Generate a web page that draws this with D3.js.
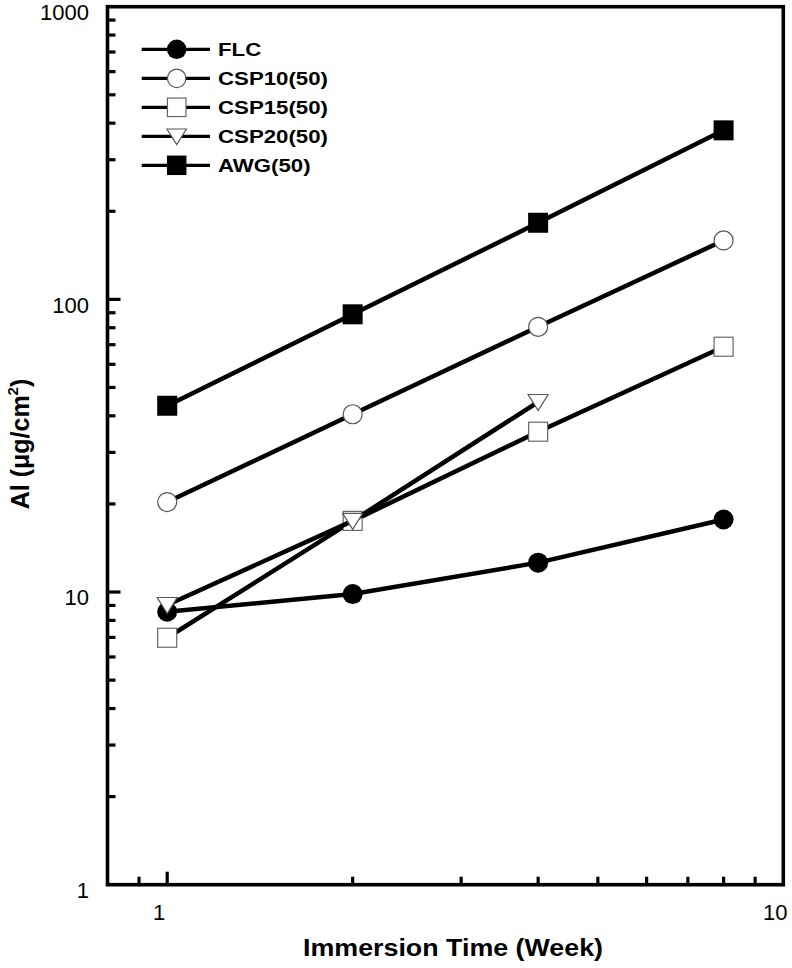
<!DOCTYPE html>
<html><head><meta charset="utf-8">
<script src="https://cdn.jsdelivr.net/npm/d3@7"></script>
<style>body{margin:0;background:#fff}svg{display:block}</style>
</head><body>
<svg id="c" width="792" height="968"></svg>
<script>
const weeks = [1, 2, 4, 8];
const FLC = [8.56, 9.84, 12.6, 17.7];
const CSP10 = [20.3, 40.5, 80.6, 159];
const CSP15 = [6.98, 17.5, 35.3, 68.9];
const CSP20 = [9.03, 17.5, 44.6];
const AWG = [43.3, 88.9, 182.7, 378];
const seriesNames = ["FLC", "CSP10(50)", "CSP15(50)", "CSP20(50)", "AWG(50)"];
const seriesValues = [FLC, CSP10, CSP15, CSP20, AWG];
const markerKinds = ["filledCircle", "openCircle", "openSquare", "openTriangle", "filledSquare"];
const yTickLabels = [1, 10, 100, 1000];
const xTickLabels = [1, 10];
const xTitle = "Immersion Time (Week)";

const svg = d3.select("#c");
const L = 107.5, R = 783.3, T = 6.7, B = 884.7;
const x = d3.scaleLog().domain([0.8, 10]).range([L, R]);
const y = d3.scaleLog().domain([1, 1000]).range([B, T]);

// ticks
const yMinor = [];
for (let d = 1; d < 1000; d *= 10) for (let k = 2; k <= 9; k++) yMinor.push(d * k);
const xMinor = [0.9, 2, 3, 4, 5, 6, 7, 8, 9];
const tg = svg.append("g").attr("stroke", "#000").attr("stroke-width", 3.2);
yMinor.forEach(v => tg.append("line").attr("x1", L).attr("x2", L + 8).attr("y1", y(v)).attr("y2", y(v)));
[10, 100].forEach(v => tg.append("line").attr("x1", L).attr("x2", L + 13).attr("y1", y(v)).attr("y2", y(v)));
xMinor.forEach(v => tg.append("line").attr("y1", B).attr("y2", B - 8).attr("x1", x(v)).attr("x2", x(v)));
[1].forEach(v => tg.append("line").attr("y1", B).attr("y2", B - 13).attr("x1", x(v)).attr("x2", x(v)));

// frame
svg.append("rect").attr("x", L).attr("y", T).attr("width", R - L).attr("height", B - T)
  .attr("fill", "none").attr("stroke", "#000").attr("stroke-width", 3.6);

// tick labels
const tickFont = "'Liberation Sans', Arial, sans-serif";
yTickLabels.forEach(v => svg.append("text").attr("x", 89).attr("y", y(v) + 13.3)
  .attr("text-anchor", "end")
  .attr("font-family", tickFont).attr("font-size", 22).text(v));
xTickLabels.forEach(v => svg.append("text").attr("x", x(v) - 8).attr("y", 920)
  .attr("text-anchor", "middle")
  .attr("font-family", tickFont).attr("font-size", 22).text(v));

// marker drawing
function marker(g, kind, cx, cy, s) {
  const h = s / 2;
  if (kind === "filledCircle") g.append("circle").attr("cx", cx).attr("cy", cy).attr("r", h).attr("fill", "#000");
  else if (kind === "openCircle") g.append("circle").attr("cx", cx).attr("cy", cy).attr("r", h - 0.5).attr("fill", "#fff").attr("stroke", "#555").attr("stroke-width", 1.2);
  else if (kind === "openSquare") g.append("rect").attr("x", cx - h + 0.5).attr("y", cy - h + 0.5).attr("width", s - 1).attr("height", s - 1).attr("fill", "#fff").attr("stroke", "#666").attr("stroke-width", 1.2);
  else if (kind === "filledSquare") g.append("rect").attr("x", cx - h).attr("y", cy - h).attr("width", s).attr("height", s).attr("fill", "#000");
  else if (kind === "openTriangle") g.append("path")
    .attr("d", `M${cx - h},${cy - h * 0.75}L${cx + h},${cy - h * 0.75}L${cx},${cy + h * 0.85}Z`)
    .attr("fill", "#fff").attr("stroke", "#555").attr("stroke-width", 1.2);
}

const line = d3.line().x(d => x(d[0])).y(d => y(d[1]));
seriesValues.forEach((vals, i) => {
  const g = svg.append("g");
  const pts = vals.map((v, j) => [weeks[j], v]);
  g.append("path").attr("d", line(pts)).attr("fill", "none").attr("stroke", "#000").attr("stroke-width", 4.5);
  pts.forEach(p => marker(g, markerKinds[i], x(p[0]), y(p[1]), 20));
});

// legend
const legY0 = 49.3, legDy = 29;
seriesNames.forEach((n, i) => {
  const g = svg.append("g");
  const cy = legY0 + i * legDy;
  g.append("line").attr("x1", 141.7).attr("x2", 210).attr("y1", cy).attr("y2", cy).attr("stroke", "#000").attr("stroke-width", 3.2);
  marker(g, markerKinds[i], 176.7, cy, 19.5);
  const t = g.append("text").attr("x", 218).attr("y", cy + 6.8)
    .attr("font-family", "'Liberation Sans', Arial, sans-serif").attr("font-weight", "bold").attr("font-size", 19).text(n);
  t.attr("textLength", t.node().getComputedTextLength() * 1.17).attr("lengthAdjust", "spacingAndGlyphs");
});

// axis titles
const xt = svg.append("text").attr("x", 453).attr("y", 956).attr("text-anchor", "middle")
  .attr("font-family", "'Liberation Sans', Arial, sans-serif").attr("font-weight", "bold").attr("font-size", 23).text(xTitle);
xt.attr("textLength", 300).attr("lengthAdjust", "spacingAndGlyphs");

const yt = svg.append("text").attr("transform", "translate(29,444) rotate(-90)").attr("text-anchor", "middle")
  .attr("font-family", "'Liberation Sans', Arial, sans-serif").attr("font-weight", "bold").attr("font-size", 25);
yt.append("tspan").text("Al (μg/cm");
yt.append("tspan").attr("font-size", 15).attr("dy", -11).text("2");
yt.append("tspan").attr("dy", 11).text(")");
</script>
</body></html>
